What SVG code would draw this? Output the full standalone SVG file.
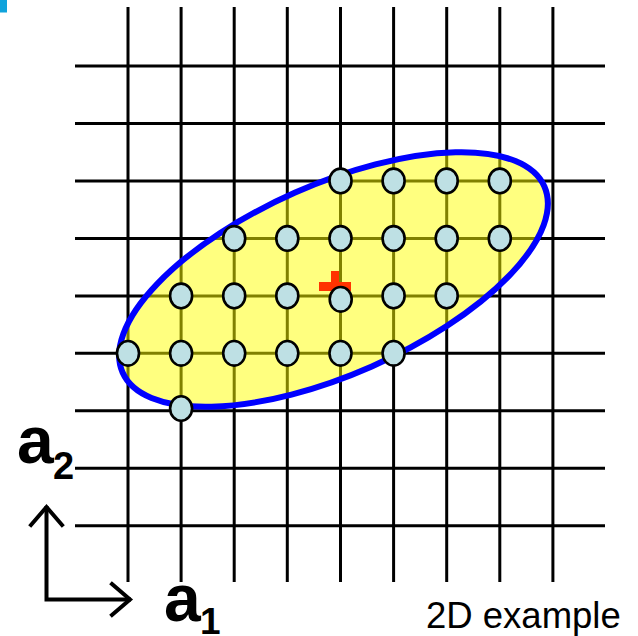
<svg xmlns="http://www.w3.org/2000/svg" width="638" height="636" viewBox="0 0 638 636">
<defs>
<style>
.g{stroke:#000;stroke-width:3;fill:none}
.pt{fill:#BEE0E4;stroke:#000;stroke-width:2.6}
.ax{stroke:#000;stroke-width:4;fill:none;stroke-linecap:square}
.lbl{font-family:"Liberation Sans",Arial,sans-serif;font-weight:bold;fill:#000}
</style>
</defs>
<rect x="0" y="0" width="638" height="636" fill="#fff"/>
<rect id="corner" x="0" y="0" width="7" height="12.5" fill="#10A3DC"/>
<g id="grid" class="g">
<line x1="128" y1="7" x2="128" y2="582"/>
<line x1="181.1" y1="7" x2="181.1" y2="582"/>
<line x1="234.2" y1="7" x2="234.2" y2="582"/>
<line x1="287.3" y1="7" x2="287.3" y2="582"/>
<line x1="340.5" y1="7" x2="340.5" y2="582"/>
<line x1="393.6" y1="7" x2="393.6" y2="582"/>
<line x1="446.7" y1="7" x2="446.7" y2="582"/>
<line x1="499.8" y1="7" x2="499.8" y2="582"/>
<line x1="552.9" y1="7" x2="552.9" y2="582"/>
<line x1="75" y1="66" x2="605" y2="66"/>
<line x1="75" y1="123.5" x2="605" y2="123.5"/>
<line x1="75" y1="180.9" x2="605" y2="180.9"/>
<line x1="75" y1="238.4" x2="605" y2="238.4"/>
<line x1="75" y1="295.9" x2="605" y2="295.9"/>
<line x1="75" y1="353.3" x2="605" y2="353.3"/>
<line x1="75" y1="410.8" x2="605" y2="410.8"/>
<line x1="75" y1="468.2" x2="605" y2="468.2"/>
<line x1="75" y1="525.7" x2="605" y2="525.7"/>
</g>
<g id="region">
<ellipse cx="333.5" cy="279.5" rx="230.5" ry="95" transform="rotate(-23.8 333.5 279.5)" fill="#FFFF00" fill-opacity="0.5" stroke="#0000FF" stroke-width="6"/>
</g>
<g id="center">
<rect x="331" y="271" width="8" height="31" fill="#FF3300"/>
<rect x="319" y="282" width="32" height="9" fill="#FF3300"/>
</g>
<g id="points">
<ellipse id="p1" class="pt" cx="340.5" cy="180.9" rx="11" ry="12.3"/>
<ellipse id="p2" class="pt" cx="393.6" cy="180.9" rx="11" ry="12.3"/>
<ellipse id="p3" class="pt" cx="446.7" cy="180.9" rx="11" ry="12.3"/>
<ellipse id="p4" class="pt" cx="499.8" cy="180.9" rx="11" ry="12.3"/>
<ellipse id="p5" class="pt" cx="234.2" cy="238.4" rx="11" ry="12.3"/>
<ellipse id="p6" class="pt" cx="287.3" cy="238.4" rx="11" ry="12.3"/>
<ellipse id="p7" class="pt" cx="340.5" cy="238.4" rx="11" ry="12.3"/>
<ellipse id="p8" class="pt" cx="393.6" cy="238.4" rx="11" ry="12.3"/>
<ellipse id="p9" class="pt" cx="446.7" cy="238.4" rx="11" ry="12.3"/>
<ellipse id="p10" class="pt" cx="499.8" cy="238.4" rx="11" ry="12.3"/>
<ellipse id="p11" class="pt" cx="181.1" cy="295.9" rx="11" ry="12.3"/>
<ellipse id="p12" class="pt" cx="234.2" cy="295.9" rx="11" ry="12.3"/>
<ellipse id="p13" class="pt" cx="287.3" cy="295.9" rx="11" ry="12.3"/>
<ellipse id="p14" class="pt" cx="340.7" cy="299.3" rx="11" ry="12.3"/>
<ellipse id="p15" class="pt" cx="393.6" cy="295.9" rx="11" ry="12.3"/>
<ellipse id="p16" class="pt" cx="446.7" cy="295.9" rx="11" ry="12.3"/>
<ellipse id="p17" class="pt" cx="128" cy="353.3" rx="11" ry="12.3"/>
<ellipse id="p18" class="pt" cx="181.1" cy="353.3" rx="11" ry="12.3"/>
<ellipse id="p19" class="pt" cx="234.2" cy="353.3" rx="11" ry="12.3"/>
<ellipse id="p20" class="pt" cx="287.3" cy="353.3" rx="11" ry="12.3"/>
<ellipse id="p21" class="pt" cx="340.5" cy="353.3" rx="11" ry="12.3"/>
<ellipse id="p22" class="pt" cx="393.6" cy="353.3" rx="11" ry="12.3"/>
<ellipse id="p23" class="pt" cx="181.1" cy="408.5" rx="11" ry="12.3"/>
</g>
<g id="axes" class="ax">
<polyline points="46.5,508 46.5,599.5 129,599.5"/>
<polyline points="31,525 46.5,507 62,525"/>
<polyline points="112,584 130,599.5 112,615"/>
</g>
<g id="labels">
<text class="lbl" x="17" y="463" font-size="66">a</text>
<text class="lbl" x="53" y="479" font-size="38">2</text>
<text class="lbl" x="164" y="621" font-size="66">a</text>
<text class="lbl" x="200" y="634" font-size="37">1</text>
<text x="426" y="628" font-family="'Liberation Sans',Arial,sans-serif" font-size="36.5" fill="#000">2D example</text>
</g>
</svg>
